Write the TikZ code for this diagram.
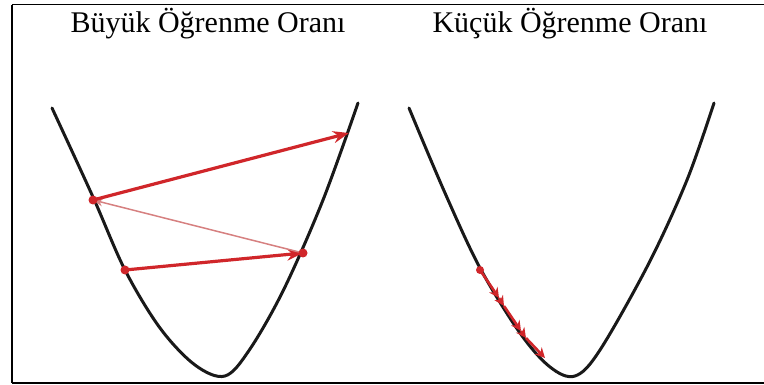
\documentclass[tikz,border=0pt]{standalone}
\usepackage{fontspec}
\setmainfont{Liberation Serif}
\usetikzlibrary{positioning, arrows.meta}
\definecolor{stepred}{RGB}{208,38,42}
\definecolor{faintred}{RGB}{214,128,128}

\begin{document}
\begin{tikzpicture}[x=1pt, y=-1pt,
	curve/.style={line width=3pt, black!90, line cap=round},
	bigstep/.style={stepred, line width=3.2pt, -{Stealth[length=16pt, width=12pt]}},
	backstep/.style={faintred, line width=1.5pt, -{Stealth[length=10pt, width=8pt]}},
	tinystep/.style={stepred, line width=2.6pt, -{Stealth[length=10pt, width=10pt]}},
	title/.style={font=\fontsize{30}{36}\selectfont, anchor=base, inner sep=0pt}]
	
	\useasboundingbox (0,0) rectangle (764,385);
	
	% Frame
	\draw[line width=2pt] (12,5) -- (12,383);
	\draw[line width=1pt] (12,5) -- (764,5);
	\draw[line width=1.5pt] (12,383) -- (764,383);
	
	% Titles
	\node[title] (bigtitle) at (208,33) {Büyük Öğrenme Oranı};
	\node[title] (smalltitle) at (570,33) {Küçük Öğrenme Oranı};
	
	% Loss curves
	\draw[curve] plot[smooth, tension=0.55] coordinates {(52,108) (93,197) (125,270) (160,328) (195,365) (225,376) (250,349) (284,289) (323,200) (358,103)};
	\draw[curve] plot[smooth, tension=0.55] coordinates {(409,108) (445,193) (480,268) (520,333) (550,367) (575,376) (600,350) (649,263) (687,180) (714,103)};
	
	% Large steps
	\coordinate (s0) at (125,270);
	\coordinate (s1) at (303,253);
	\coordinate (s2) at (93,200);
	\coordinate (s3) at (349,133);
	
	\draw[bigstep] (s0) -- (s1);
	\draw[backstep] (s1) -- (s2);
	\draw[bigstep] (s2) -- (s3);
	\foreach \p in {s0, s1, s2}
		\fill[stepred] (\p) circle (4.5pt);
	
	% Small steps
	\coordinate (r0) at (480,270);
	\coordinate (r1) at (499,298);
	\coordinate (r2) at (504,306);
	\coordinate (r3) at (521,331);
	\coordinate (r4) at (526,338);
	\coordinate (r5) at (545,358);
	
	\foreach \a/\b in {r0/r1, r1/r2, r2/r3, r3/r4, r4/r5}
		\draw[tinystep] (\a) -- (\b);
	\fill[stepred] (r0) circle (4pt);
	
\end{tikzpicture}
\end{document}
